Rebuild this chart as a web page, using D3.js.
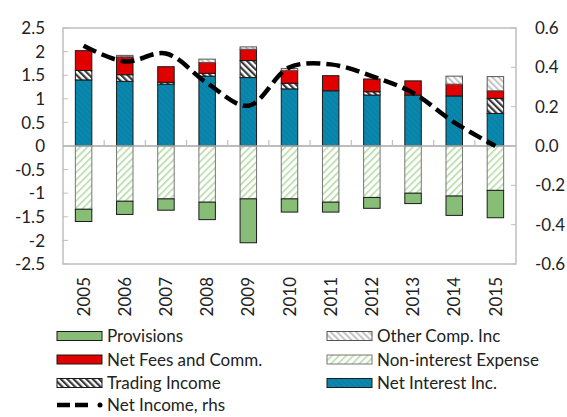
<!DOCTYPE html>
<html>
<head>
<meta charset="utf-8">
<script src="https://cdn.jsdelivr.net/npm/d3@7"></script>
<style>
  body { margin: 0; background: #fff; }
  text { font-family: Lato, "Liberation Sans", sans-serif; fill: #222; }
</style>
</head>
<body>
<div class="chart"></div>
<script>
// values
const years = ["2005","2006","2007","2008","2009","2010","2011","2012","2013","2014","2015"];
const netInterest = [1.40, 1.37, 1.31, 1.48, 1.45, 1.21, 1.17, 1.08, 1.08, 1.06, 0.69];
const trading     = [0.20, 0.14, 0.04, 0.06, 0.36, 0.12, 0.00, 0.07, 0.00, 0.00, 0.32];
const netFees     = [0.42, 0.38, 0.33, 0.23, 0.24, 0.27, 0.32, 0.27, 0.30, 0.25, 0.16];
const otherComp   = [0.00, 0.03, 0.00, 0.07, 0.05, 0.04, 0.00, 0.00, 0.00, 0.17, 0.30];
const nonInterest = [-1.34, -1.17, -1.12, -1.19, -1.12, -1.12, -1.19, -1.09, -1.00, -1.06, -0.94];
const provisions  = [-0.26, -0.28, -0.24, -0.37, -0.93, -0.28, -0.21, -0.23, -0.22, -0.41, -0.58];
const netIncome   = [0.51, 0.43, 0.47, 0.32, 0.205, 0.40, 0.415, 0.355, 0.27, 0.12, 0.00];

const leftTicks  = [2.5, 2, 1.5, 1, 0.5, 0, -0.5, -1, -1.5, -2, -2.5];
const rightTicks = [0.6, 0.4, 0.2, 0.0, -0.2, -0.4, -0.6];

const W = 567, H = 417;
const plot = {left: 63, right: 516, top: 28, bottom: 264};
const fs = 17;

const svg = d3.select(".chart").append("svg")
  .attr("width", W)
  .attr("height", H);

// fill patterns
const defs = svg.append("defs");
function stripes(id, bg, line, lw, gap, angle) {
  const p = defs.append("pattern")
    .attr("id", id)
    .attr("patternUnits", "userSpaceOnUse")
    .attr("width", gap).attr("height", gap)
    .attr("patternTransform", "rotate(" + angle + ")");
  p.append("rect").attr("width", gap).attr("height", gap).attr("fill", bg);
  p.append("rect").attr("width", lw).attr("height", gap).attr("fill", line);
}
stripes("pTrading", "#fff", "#3a3a3a", 2.2, 4.5, -45);
stripes("pOther", "#fff", "#c4c4c4", 2, 4.5, -45);
stripes("pNonInt", "#fff", "#b5dba6", 1.6, 5, 45);
stripes("pNetInt", "#0a87ad", "#0a7ea2", 1, 4, -45);

const series = [
  {name: "Net Interest Inc.", values: netInterest, fill: "url(#pNetInt)", stroke: "#1a1a1a"},
  {name: "Trading Income", values: trading, fill: "url(#pTrading)", stroke: "#1a1a1a"},
  {name: "Net Fees and Comm.", values: netFees, fill: "#e00000", stroke: "#1a1a1a"},
  {name: "Other Comp. Inc", values: otherComp, fill: "url(#pOther)", stroke: "#555"},
  {name: "Non-interest Expense", values: nonInterest, fill: "url(#pNonInt)", stroke: "#777"},
  {name: "Provisions", values: provisions, fill: "#87bd76", stroke: "#1a1a1a"}
];

const x = d3.scaleBand().domain(years).range([plot.left, plot.right]).padding(0);
const y = d3.scaleLinear().domain([-2.5, 2.5]).range([plot.bottom, plot.top]);
const y2 = d3.scaleLinear().domain([-0.6, 0.6]).range([plot.bottom, plot.top]);
const barW = x.bandwidth() * 0.4;

// plot frame
svg.append("rect")
  .attr("x", plot.left).attr("y", plot.top)
  .attr("width", plot.right - plot.left).attr("height", plot.bottom - plot.top)
  .attr("fill", "none").attr("stroke", "#bfbfbf").attr("stroke-width", 1.5);

// stack positives up and negatives down
const stacked = [];
years.forEach((yr, i) => {
  let pos = 0, neg = 0;
  series.forEach(s => {
    const v = s.values[i];
    if (v === 0) return;
    let y0, y1;
    if (v > 0) { y0 = pos; y1 = pos + v; pos = y1; }
    else { y0 = neg; y1 = neg + v; neg = y1; }
    stacked.push({year: yr, y0: y0, y1: y1, s: s});
  });
});

svg.selectAll("rect.bar")
  .data(stacked)
  .enter().append("rect")
  .attr("class", "bar")
  .attr("x", d => x(d.year) + (x.bandwidth() - barW) / 2)
  .attr("y", d => y(Math.max(d.y0, d.y1)))
  .attr("width", barW)
  .attr("height", d => Math.abs(y(d.y0) - y(d.y1)))
  .attr("fill", d => d.s.fill)
  .attr("stroke", d => d.s.stroke)
  .attr("stroke-width", 1);

// zero line + category ticks
svg.append("line")
  .attr("x1", plot.left).attr("x2", plot.right)
  .attr("y1", y(0)).attr("y2", y(0))
  .attr("stroke", "#a6a6a6").attr("stroke-width", 1.5);
svg.selectAll("line.ctick")
  .data(years.slice(1))
  .enter().append("line")
  .attr("x1", d => x(d)).attr("x2", d => x(d))
  .attr("y1", y(0)).attr("y2", y(0) - 6)
  .attr("stroke", "#bfbfbf").attr("stroke-width", 1.2);

// left axis
svg.selectAll("line.ltick")
  .data(leftTicks)
  .enter().append("line")
  .attr("x1", plot.left).attr("x2", plot.left + 5)
  .attr("y1", d => y(d)).attr("y2", d => y(d))
  .attr("stroke", "#bfbfbf");
svg.selectAll("text.lt")
  .data(leftTicks)
  .enter().append("text")
  .attr("x", 45)
  .attr("y", d => y(d))
  .attr("dy", "0.36em")
  .attr("text-anchor", "end")
  .attr("font-size", fs)
  .text(d => d);

// right axis
svg.selectAll("line.rtick")
  .data(rightTicks)
  .enter().append("line")
  .attr("x1", plot.right - 5).attr("x2", plot.right)
  .attr("y1", d => y2(d)).attr("y2", d => y2(d))
  .attr("stroke", "#bfbfbf");
svg.selectAll("text.rt")
  .data(rightTicks)
  .enter().append("text")
  .attr("x", 535)
  .attr("y", d => y2(d))
  .attr("dy", "0.36em")
  .attr("font-size", fs)
  .text(d => d3.format(".1f")(d).replace("−", "-"));

// year labels, rotated
svg.selectAll("text.yr")
  .data(years)
  .enter().append("text")
  .attr("transform", d => "translate(" + (x(d) + x.bandwidth() / 2) + ",277) rotate(-90)")
  .attr("dy", "0.36em")
  .attr("text-anchor", "end")
  .attr("font-size", fs)
  .text(d => d);

// net income line (rhs)
const line = d3.line()
  .x((d, i) => x(years[i]) + x.bandwidth() / 2)
  .y(d => y2(d))
  .curve(d3.curveCatmullRom.alpha(0.5));
svg.append("path")
  .datum(netIncome)
  .attr("d", line)
  .attr("fill", "none")
  .attr("stroke", "#000")
  .attr("stroke-width", 4.5)
  .attr("stroke-dasharray", "14,6");

// legend
const legendItems = [
  {s: series[5], col: 0, row: 0},
  {s: series[2], col: 0, row: 1},
  {s: series[1], col: 0, row: 2},
  {s: series[3], col: 1, row: 0},
  {s: series[4], col: 1, row: 1},
  {s: series[0], col: 1, row: 2}
];
const colX = [57, 327], rowY = [336, 359.5, 383, 405];

const lg = svg.selectAll("g.leg")
  .data(legendItems)
  .enter().append("g")
  .attr("transform", d => "translate(" + colX[d.col] + "," + rowY[d.row] + ")");
lg.append("rect")
  .attr("x", 0).attr("y", -4.5)
  .attr("width", 45).attr("height", 9)
  .attr("fill", d => d.s.fill)
  .attr("stroke", d => d.s.stroke);
lg.append("text")
  .attr("x", 50)
  .attr("dy", "0.36em")
  .attr("font-size", fs)
  .text(d => d.s.name);

const li = svg.append("g").attr("transform", "translate(" + colX[0] + "," + rowY[3] + ")");
li.append("line")
  .attr("x1", 0).attr("x2", 31)
  .attr("stroke", "#000").attr("stroke-width", 4.5)
  .attr("stroke-dasharray", "13,5");
li.append("circle").attr("cx", 43).attr("r", 2.5).attr("fill", "#000");
li.append("text")
  .attr("x", 50)
  .attr("dy", "0.36em")
  .attr("font-size", fs)
  .text("Net Income, rhs");
</script>
</body>
</html>
